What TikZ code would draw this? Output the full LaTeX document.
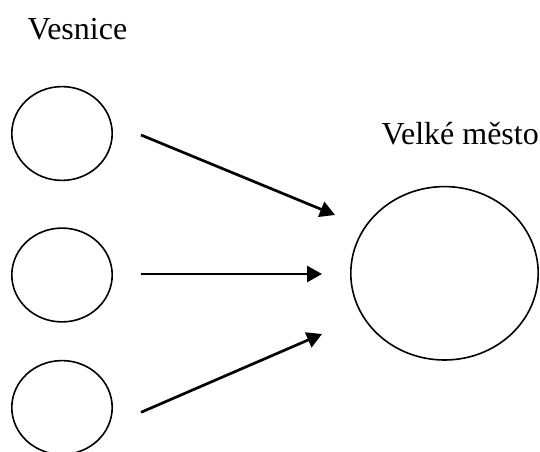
\documentclass[tikz,border=0pt]{standalone}
\usepackage{fontspec}
\setmainfont{Liberation Serif}
\usetikzlibrary{shapes.geometric,arrows.meta}
\begin{document}
\begin{tikzpicture}[x=1bp,y=-1bp,
  village/.style={draw,ellipse,line width=1.6bp,inner sep=0pt,minimum width=100.4bp,minimum height=93.8bp},
  city/.style={draw,ellipse,line width=1.6bp,inner sep=0pt,minimum width=187.4bp,minimum height=173.4bp},
  flow/.style={line width=2.7bp,-{Triangle[length=15bp,width=16bp]}},
  lbl/.style={anchor=base west,inner sep=0pt,font=\fontsize{32bp}{36bp}\selectfont}]
\useasboundingbox (0,0) rectangle (540,452);
\node[lbl] (tv) at (27.5,40) {Vesnice};
\node[lbl] (tc) at (381.3,144.3) {Velké město};
\node[village] (v1) at (62,133.5) {};
\node[village] (v2) at (62,275) {};
\node[village] (v3) at (62,407.5) {};
\node[city] (c) at (444.5,273.3) {};
\coordinate (s1) at (141,135);
\coordinate (e1) at (335,215);
\coordinate (s2) at (141,274);
\coordinate (e2) at (322,274);
\coordinate (s3) at (141,412.3);
\coordinate (e3) at (322,334);
\draw[flow] (s1) -- (e1);
\draw[flow] (s2) -- (e2);
\draw[flow] (s3) -- (e3);
\end{tikzpicture}
\end{document}
